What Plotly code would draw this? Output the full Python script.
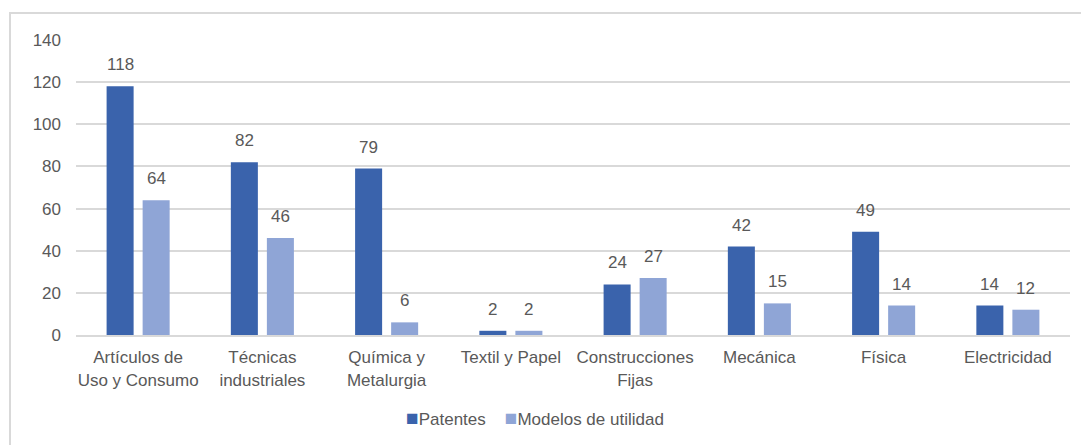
import plotly.graph_objects as go

categories = [
    "Artículos de<br>Uso y Consumo",
    "Técnicas<br>industriales",
    "Química y<br>Metalurgia",
    "Textil y Papel",
    "Construcciones<br>Fijas",
    "Mecánica",
    "Física",
    "Electricidad",
]
patentes = [118, 82, 79, 2, 24, 42, 49, 14]
modelos_utilidad = [64, 46, 6, 2, 27, 15, 14, 12]
y_ticks = [0, 20, 40, 60, 80, 100, 120, 140]
series_names = ["Patentes", "Modelos de utilidad"]

DARK = "#3A63AC"
LIGHT = "#8FA5D6"
TEXT = "#595959"
GRID = "#D9D9D9"
FONT = "Liberation Sans, Arial, sans-serif"

fig = go.Figure()
fig.add_trace(go.Bar(name=series_names[0], x=categories, y=patentes,
                     marker=dict(color=DARK, line=dict(width=0))))
fig.add_trace(go.Bar(name=series_names[1], x=categories, y=modelos_utilidad,
                     marker=dict(color=LIGHT, line=dict(width=0))))

# value labels above each bar
offsets = {0: -18, 1: 18}
for i, series in enumerate([patentes, modelos_utilidad]):
    for cat, val in zip(categories, series):
        fig.add_annotation(x=cat, y=val, text=str(val), showarrow=False,
                           xshift=offsets[i], yshift=10, yanchor="bottom",
                           font=dict(family=FONT, size=17, color=TEXT))

# compact legend row below the axis
gap = "\u00a0" * 4
legend_text = (
    f"<span style='color:{DARK};font-size:21px'>■</span>{series_names[0]}"
    f"{gap}<span style='color:{LIGHT};font-size:21px'>■</span>{series_names[1]}"
)
fig.add_annotation(xref="paper", yref="paper", x=0.4613, y=-0.281,
                   xanchor="center", yanchor="middle", showarrow=False,
                   text=legend_text, font=dict(family=FONT, size=17, color=TEXT))

# chart frame (left and top edges)
fig.add_shape(type="rect", xref="paper", yref="paper",
              x0=-0.0664, x1=1.03, y0=-0.4, y1=1.0915,
              line=dict(color=GRID, width=2), layer="below")

fig.update_layout(
    width=1081, height=445,
    margin=dict(l=76, r=11, t=40, b=110),
    paper_bgcolor="white", plot_bgcolor="white",
    barmode="group", bargap=0.42, bargroupgap=0.25,
    font=dict(family=FONT, size=17, color=TEXT),
    showlegend=False,
    xaxis=dict(showgrid=False, showline=True, linecolor=GRID, linewidth=2,
               ticks="", tickfont=dict(size=17, color=TEXT),
               ticklabelstandoff=6),
    yaxis=dict(range=[0, 140], tickvals=y_ticks, showgrid=True, gridcolor=GRID,
               gridwidth=2, zeroline=False, showline=False, ticks="",
               tickfont=dict(size=17, color=TEXT), ticklabelstandoff=14),
)

fig.write_html("out.html")
